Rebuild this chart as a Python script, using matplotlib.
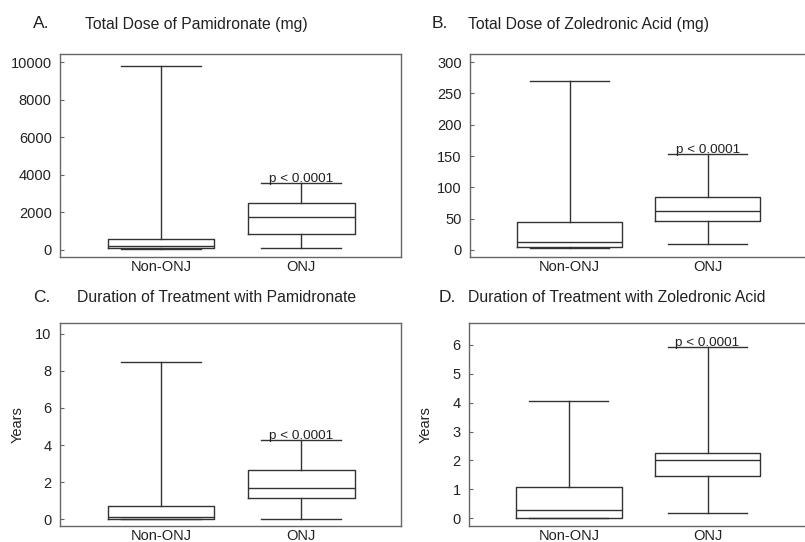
import matplotlib
matplotlib.use("Agg")
import matplotlib.pyplot as plt

plt.rcParams['font.family'] = ['Liberation Sans', 'DejaVu Sans']

groups = ['Non-ONJ', 'ONJ']

# (min, q1, median, q3, max) for each group
pam_dose = [(30, 120, 230, 585, 9800), (130, 870, 1780, 2500, 3550)]
zol_dose = [(3, 5, 13, 45, 270), (9, 46, 63, 85, 153)]
pam_years = [(0.02, 0.04, 0.11, 0.73, 8.45), (0.03, 1.17, 1.68, 2.67, 4.25)]
zol_years = [(0.01, 0.01, 0.30, 1.08, 4.06), (0.17, 1.46, 2.02, 2.25, 5.93)]

panels = [
    ('A.', 'Total Dose of Pamidronate (mg)', pam_dose, [0, 2000, 4000, 6000, 8000, 10000], (-373, 10442), None),
    ('B.', 'Total Dose of Zoledronic Acid (mg)', zol_dose, [0, 50, 100, 150, 200, 250, 300], (-11.2, 313), None),
    ('C.', 'Duration of Treatment with Pamidronate', pam_years, [0, 2, 4, 6, 8, 10], (-0.36, 10.57), 'Years'),
    ('D.', 'Duration of Treatment with Zoledronic Acid', zol_years, [0, 1, 2, 3, 4, 5, 6], (-0.27, 6.76), 'Years'),
]
p_label = 'p < 0.0001'

W, H = 805, 542
fig = plt.figure(figsize=(W / 100, H / 100), dpi=100)

# axes boxes in pixels: left, right, top, bottom
boxes_px = [(60, 401, 54, 257), (470, 806, 54, 257), (60, 401, 323, 526), (469, 806, 323, 526)]
letter_px = [(33, 23), (432, 23), (33, 297), (439, 298)]
title_px = [(85, 25), (468, 25), (77, 298), (468, 298)]
ylabel_x_px = [None, None, 18, 426]

line_col = '#333333'
spine_col = '#666666'

for (letter, title, stats, ticks, ylim, ylabel), (l, r, t, b), (lx, ly), (tx, ty), yx in zip(
        panels, boxes_px, letter_px, title_px, ylabel_x_px):
    ax = fig.add_axes([l / W, 1 - b / H, (r - l) / W, (b - t) / H])
    bstats = []
    for g, (mn, q1, med, q3, mx) in zip(groups, stats):
        bstats.append({'label': g, 'whislo': mn, 'q1': q1, 'med': med, 'q3': q3, 'whishi': mx, 'fliers': []})
    ax.bxp(bstats, positions=[1, 2], widths=0.76, capwidths=0.57, showfliers=False,
           boxprops=dict(color=line_col, lw=1.0),
           medianprops=dict(color=line_col, lw=1.0),
           whiskerprops=dict(color=line_col, lw=1.0),
           capprops=dict(color=line_col, lw=1.0))
    ax.set_xlim(0.28, 2.71)
    ax.set_ylim(*ylim)
    ax.set_yticks(ticks)
    ax.set_xticks([1, 2])
    ax.set_xticklabels(groups)
    ax.tick_params(axis='y', direction='in', length=3, color=spine_col, labelsize=10.5, labelcolor='#222222', pad=6)
    ax.tick_params(axis='x', length=0, labelsize=10.5, labelcolor='#222222', pad=2)
    for s in ax.spines.values():
        s.set_color(spine_col)
        s.set_linewidth(1.0)
    if ylabel:
        ax.set_ylabel(ylabel, fontsize=10.5, color='#222222', va='center')
        ax.yaxis.set_label_coords((yx - l) / (r - l), 0.5 - ((425 - (t + b) / 2) / (b - t)))
    ax.annotate(p_label, xy=(2, stats[1][4]), xytext=(0, 1), textcoords='offset points',
                ha='center', va='baseline', fontsize=9.7, color='#222222')
    fig.text(lx / W, 1 - ly / H, letter, fontsize=12.5, color='#222222', ha='left', va='center')
    fig.text(tx / W, 1 - ty / H, title, fontsize=11.3, color='#222222', ha='left', va='center')

fig.savefig('out.png', dpi=100)
